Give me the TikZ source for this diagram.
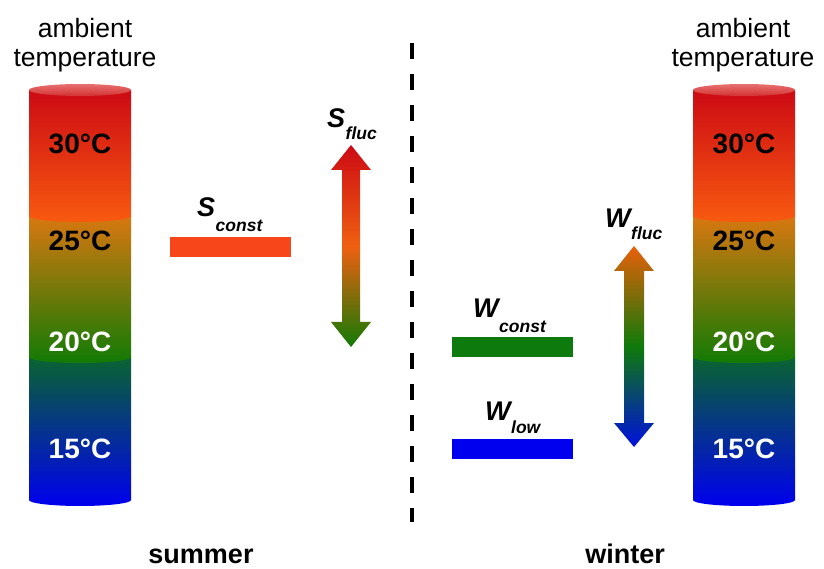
\documentclass[tikz,border=0pt]{standalone}
\usepackage{fontspec}
\setmainfont{Liberation Sans}

% colours of the temperature scale
\definecolor{capTop}{HTML}{E87070}
\definecolor{capBot}{HTML}{D23232}
\definecolor{hotRed}{HTML}{CC0A14}
\definecolor{hotOrange}{HTML}{F85A10}
\definecolor{warmBrown}{HTML}{D87810}
\definecolor{mildGreen}{HTML}{127A05}
\definecolor{coolGreen}{HTML}{0A6430}
\definecolor{coldBlue}{HTML}{0000EE}
\definecolor{sconstC}{HTML}{F7471A}
\definecolor{wconstC}{HTML}{0C7A0C}
\definecolor{wlowC}{HTML}{0000EE}
\definecolor{sMid}{HTML}{F06010}
\definecolor{wTop}{HTML}{E8600A}
\definecolor{wMid}{HTML}{0F7A0A}
\definecolor{wBot}{HTML}{0010DD}

\newcommand\templab{\fontsize{28}{30}\selectfont\bfseries}
\newcommand\seasonlab{\fontsize{27}{30}\selectfont\bfseries}
\newcommand\caselab[3]{\fontsize{27}{30}\selectfont\bfseries\itshape #1\kern0.5pt\raisebox{-#3pt}{\fontsize{17.5}{18}\selectfont #2}}

\tikzset{
  bar/.style={rectangle, inner sep=0pt, minimum width=121pt, minimum height=20pt},
  tlabel/.style={anchor=base, inner sep=0pt, font=\templab},
  clabel/.style={anchor=base west, inner sep=0pt},
  slabel/.style={anchor=base, inner sep=0pt, font=\seasonlab},
  amblabel/.style={anchor=north, align=center, inner sep=0pt, font=\fontsize{26.5}{29}\selectfont},
  divider/.style={line width=3.5pt, dash pattern=on 16pt off 15pt},
}

\begin{document}
\begin{tikzpicture}[x=1pt,y=1pt]
\useasboundingbox (0,0) rectangle (824,568);

% two temperature cylinders, drawn bottom segment first
\foreach \cx/\nm in {80/L,744/R} {
  \shade[top color=coolGreen, bottom color=coldBlue]
    (\cx-51,211) -- (\cx-51,68) arc[start angle=180,end angle=360,x radius=51,y radius=6]
    -- (\cx+51,211) -- cycle;
  \shade[top color=warmBrown, bottom color=mildGreen]
    (\cx-51,352) -- (\cx-51,211) arc[start angle=180,end angle=360,x radius=51,y radius=6]
    -- (\cx+51,352) -- cycle;
  \shade[top color=hotRed, bottom color=hotOrange]
    (\cx-51,478) -- (\cx-51,352) arc[start angle=180,end angle=360,x radius=51,y radius=6]
    -- (\cx+51,478) -- cycle;
  \shade[top color=capTop, bottom color=capBot]
    (\cx,478) ellipse[x radius=51,y radius=6];
  \node[tlabel, text=black] (t30\nm) at (\cx,414) {30°C};
  \node[tlabel, text=black] (t25\nm) at (\cx,317) {25°C};
  \node[tlabel, text=white] (t20\nm) at (\cx,216) {20°C};
  \node[tlabel, text=white] (t15\nm) at (\cx,110) {15°C};
}

\node[amblabel] (ambL) at (85,550) {ambient\\temperature};
\node[amblabel] (ambR) at (743,550) {ambient\\temperature};

% season divider
\coordinate (divTop) at (412,525);
\coordinate (divBot) at (412,46);
\draw[divider] (divTop) -- (divBot);

% constant set points
\node[bar, fill=sconstC] (sconst) at (230.5,321) {};
\node[bar, fill=wconstC] (wconst) at (512.5,221) {};
\node[bar, fill=wlowC] (wlow) at (512.5,119) {};

% fluctuating set points: vertical double arrows
\shade[top color=hotRed, bottom color=mildGreen, middle color=sMid]
  (351,423) -- (371,398) -- (360,398) -- (360,246) -- (371,246) -- (351,221)
  -- (331,246) -- (342,246) -- (342,398) -- (331,398) -- cycle;
\shade[top color=wTop, bottom color=wBot, middle color=wMid]
  (634,322) -- (654,297) -- (644,297) -- (644,145) -- (654,145) -- (634,121)
  -- (614,145) -- (624,145) -- (624,297) -- (614,297) -- cycle;

% case labels
\node[clabel] (lsconst) at (197,351) {\caselab{S}{const}{15}};
\node[clabel] (lsfluc) at (327,440) {\caselab{S}{fluc}{12}};
\node[clabel] (lwfluc) at (605,340) {\caselab{W}{fluc}{12}};
\node[clabel] (lwconst) at (473,250) {\caselab{W}{const}{15}};
\node[clabel] (lwlow) at (485,148) {\caselab{W}{low}{13}};

% seasons
\node[slabel] (summer) at (201,5) {summer};
\node[slabel] (winter) at (625,5) {winter};
\end{tikzpicture}
\end{document}
